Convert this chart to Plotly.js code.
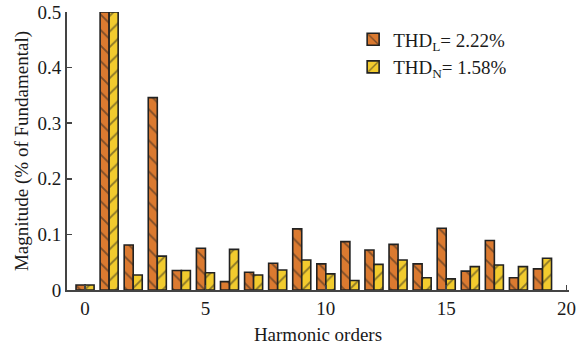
<!DOCTYPE html>
<html>
<head>
<meta charset="utf-8">
<script src="https://cdn.plot.ly/plotly-3.0.1.min.js"></script>
<style>
  html, body { margin: 0; padding: 0; background: #fff; }
  #chart { width: 579px; height: 351px; }
</style>
</head>
<body>
<div id="chart"></div>
<script>
// Harmonic orders and magnitudes (% of fundamental)
const orders = [0, 1, 2, 3, 4, 5, 6, 7, 8, 9, 10, 11, 12, 13, 14, 15, 16, 17, 18, 19];
const thdL = [0.009, 0.5, 0.081, 0.346, 0.035, 0.075, 0.015, 0.032, 0.048, 0.110,
              0.047, 0.087, 0.072, 0.082, 0.047, 0.111, 0.034, 0.089, 0.022, 0.038];
const thdN = [0.009, 0.5, 0.027, 0.061, 0.035, 0.031, 0.073, 0.027, 0.036, 0.054,
              0.029, 0.017, 0.046, 0.054, 0.022, 0.020, 0.042, 0.045, 0.042, 0.057];
const seriesNames = ['THD<sub>L</sub>= 2.22%', 'THD<sub>N</sub>= 1.58%'];
const xTicks = [0, 5, 10, 15, 20];
const yTicks = [0, 0.1, 0.2, 0.3, 0.4, 0.5];
const yTickText = ['0', '0.1', '0.2', '0.3', '0.4', '0.5'];

const serif = '"Liberation Serif", "Times New Roman", serif';
const font = { family: serif, size: 19, color: '#1a1a1a' };
const outline = { color: '#222', width: 1.6 };

const traces = [
  {
    type: 'bar', x: orders, y: thdL, name: seriesNames[0],
    marker: {
      color: '#DB7A30', line: outline,
      pattern: { shape: '\\', fillmode: 'overlay', bgcolor: '#DB7A30',
                 fgcolor: '#222', size: 11, solidity: 0.17 }
    }
  },
  {
    type: 'bar', x: orders, y: thdN, name: seriesNames[1],
    marker: {
      color: '#F2CB2E', line: outline,
      pattern: { shape: '/', fillmode: 'overlay', bgcolor: '#F2CB2E',
                 fgcolor: '#222', size: 11, solidity: 0.17 }
    }
  }
];

const layout = {
  width: 579, height: 351,
  margin: { l: 67, r: 10, t: 12, b: 61 },
  paper_bgcolor: '#fff', plot_bgcolor: '#fff',
  font: font,
  barmode: 'group', bargap: 0.25, bargroupgap: 0,
  showlegend: true,
  legend: {
    x: 0.57, y: 0.97, xanchor: 'left', yanchor: 'top',
    bgcolor: 'rgba(0,0,0,0)', font: font, tracegroupgap: 0
  },
  xaxis: {
    range: [-0.75, 20.1], tickvals: xTicks, ticktext: xTicks.map(String),
    ticklabeloverflow: 'allow',
    showgrid: false, zeroline: false,
    showline: true, linecolor: '#444', linewidth: 2,
    ticks: 'inside', ticklen: 5, tickwidth: 1.5, tickcolor: '#444',
    title: { text: 'Harmonic orders', font: font, standoff: 10 }
  },
  yaxis: {
    range: [0, 0.5], tickvals: yTicks, ticktext: yTickText,
    showgrid: false, zeroline: false,
    showline: true, linecolor: '#444', linewidth: 2,
    ticks: 'inside', ticklen: 5, tickwidth: 1.5, tickcolor: '#444',
    title: { text: 'Magnitude (% of Fundamental)', font: font, standoff: 4 }
  }
};

Plotly.newPlot('chart', traces, layout, { displayModeBar: false, staticPlot: true });
</script>
</body>
</html>
